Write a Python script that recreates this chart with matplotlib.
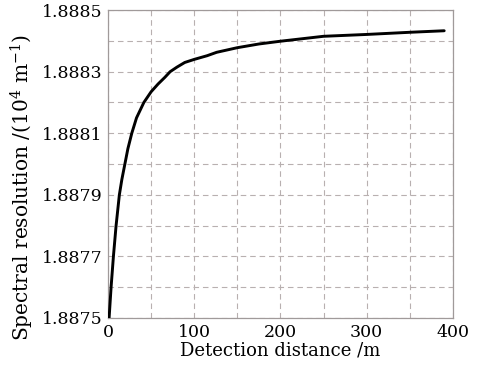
import numpy as np
import matplotlib
matplotlib.use("Agg")
import matplotlib.pyplot as plt
from matplotlib.ticker import MultipleLocator, FixedLocator, FormatStrFormatter

# values
distance = [1.2, 3.5, 6.2, 9.3, 13.1, 16.0, 19.5, 23.0, 27.5, 33.0, 41.5, 50.0,
            58.0, 66.0, 72.0, 80.0, 89.0, 100.0, 115.0, 126.0, 150.0, 175.0,
            200.0, 250.0, 300.0, 350.0, 390.0]
resolution = [1.88750, 1.88760, 1.88770, 1.88780, 1.88790, 1.88795, 1.88800,
              1.88805, 1.88810, 1.88815, 1.88820, 1.888235, 1.88826, 1.888282,
              1.88830, 1.888315, 1.88833, 1.88834, 1.888352, 1.888363, 1.888378,
              1.88839, 1.888399, 1.888415, 1.888421, 1.888428, 1.888433]
y_ticks = [1.8875, 1.8877, 1.8879, 1.8881, 1.8883, 1.8885]

plt.rcParams['font.family'] = ['DejaVu Serif']
plt.rcParams['mathtext.fontset'] = 'dejavuserif'

fig = plt.figure(figsize=(4.89, 3.75), dpi=100)
ax = fig.add_axes([0.221, 0.152, 0.705, 0.821])

ax.plot(distance, resolution, color='black', linewidth=2.1, zorder=3,
        solid_joinstyle='round', solid_capstyle='round')

ax.set_xlim(0, 400)
ax.set_ylim(1.8875, 1.8885)
ax.xaxis.set_major_locator(MultipleLocator(100))
ax.xaxis.set_minor_locator(MultipleLocator(50))
ax.yaxis.set_major_locator(FixedLocator(y_ticks))
ax.yaxis.set_minor_locator(FixedLocator([1.8876, 1.8878, 1.8880, 1.8882, 1.8884]))
ax.yaxis.set_major_formatter(FormatStrFormatter('%.4f'))

ax.grid(True, which='both', color='#b8b0b0', linestyle=(0, (5, 3.5)), linewidth=0.8)
ax.tick_params(which='both', length=0, labelsize=12.5, pad=4)
for s in ax.spines.values():
    s.set_color('#a09a9a')
    s.set_linewidth(0.9)

ax.set_xlabel('Detection distance /m', fontsize=13, labelpad=1)
ax.set_ylabel('Spectral resolution /(10$^4$ m$^{-1}$)', fontsize=14.5)
ax.yaxis.set_label_coords(-0.21, 0.424)

fig.savefig('out.png', dpi=100)
